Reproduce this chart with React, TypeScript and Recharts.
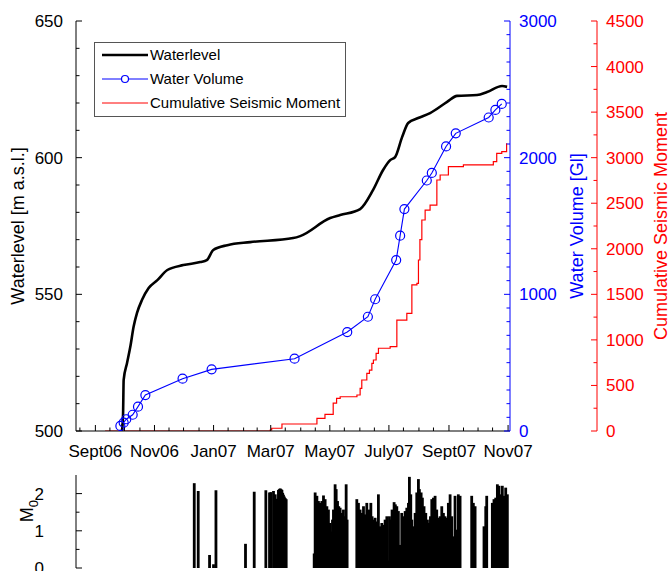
import { ComposedChart, Line, Bar, XAxis, YAxis } from 'recharts';

const FONT = '"Liberation Sans", Arial, Helvetica, sans-serif';

// x values are days counted from 1 Sept 2006
const monthTicks = [0, 61, 122, 181, 242, 303, 365, 426];
const monthLabels = ['Sept06', 'Nov06', 'Jan07', 'Mar07', 'May07', 'July07', 'Sept07', 'Nov07'];
const halfMonthTicks = [-16, 15, 30, 46, 76, 91, 107, 137, 153, 167, 196, 212, 227, 257, 273, 288, 318, 334, 349, 380, 395, 410];

const levelDays = [27, 27.5, 28.6, 29.2, 32.7, 36.1, 39.5, 43, 48.2, 55, 64, 74.3, 90.8, 108.3, 115, 121.7, 136.2, 159.9, 204.2, 211.4, 242.4, 252.7, 273.3, 286.7, 297, 304.3, 309.4, 316.7, 322.9, 333.2, 345.5, 363.1, 373.4, 394, 404.3, 419.8, 425];
const levelValues = [500, 500.4, 506.5, 518.7, 524.9, 530.9, 538.2, 543.2, 548, 552.3, 555.2, 558.9, 560.7, 561.8, 562.5, 566.2, 568, 569.1, 570.6, 571.3, 577.9, 579, 581.2, 588.2, 595.5, 599.1, 600.2, 607.6, 612.7, 614.5, 616.3, 620.4, 622.6, 622.9, 624, 626.2, 625.9];

const volumeDays = [25.8, 29.2, 31.9, 38.5, 44, 51.6, 90, 120, 205.6, 260, 281.3, 288.8, 310.5, 314.6, 319, 342.1, 347.3, 362, 372, 406, 412.9, 419.5];
const volumeValues = [37, 61, 86, 119, 178, 263, 383, 451, 529, 724, 836, 964, 1251, 1429, 1624, 1833, 1888, 2082, 2178, 2294, 2349, 2393];

const momentDays = [10, 105, 180.5, 182, 192.6, 227, 228.7, 237, 245.5, 249, 252.7, 270, 273.3, 275, 280.2, 282.9, 285.4, 287, 289.8, 292.2, 304.3, 311.2, 321.5, 326.7, 331.9, 333.5, 335, 337, 340.4, 345.5, 352.5, 355.9, 364.4, 379.9, 410.8, 414.3, 419.5, 424.5];
const momentValues = [0, 0, 11, 30, 77, 77, 139, 183, 307, 359, 376, 395, 468, 560, 633, 669, 743, 779, 853, 908, 925, 1218, 1292, 1603, 1621, 1877, 2100, 2316, 2425, 2480, 2755, 2810, 2901, 2920, 2956, 3048, 3066, 3158];

const m0Days = [
  102.1, 106.2, 117.9, 122, 124.5, 155, 164, 176, 179.8, 181.2, 183.9, 185.7, 187.4, 189, 190, 190.8, 191.7, 192.6, 193.4, 194.2, 195.1, 196, 197,
  225.9, 226.9, 228.7, 230.3, 232.1, 233.1, 233.8, 235.5, 237.2, 239, 240.6, 242.4, 243.4, 244.8, 245.8, 247.5, 248.6, 250, 251.3, 252.7, 253.7, 254.8, 256.1, 257.6, 258.9, 259.9,
  269.9, 271.6, 273.3, 275.1, 276.8, 278.5, 280.2, 281.9, 282.9, 284.4, 285.7, 287.1, 288.8, 290.6, 292.2, 294, 295.7, 297.4, 299.1, 300.9, 301.9, 303.6, 305, 306.3, 308.4, 309.7, 311.2, 312.8, 314.6, 316.3, 318, 319.8, 321.5, 323.2, 324.2, 325.6, 326.7, 328.3, 330.1, 331.8, 333.5, 334.5, 336.3, 337.6, 339.3, 341.1, 342.8, 344.5, 345.9, 347.3, 349, 350.7, 352.4, 354.1, 355.9, 357.6, 359.3, 361, 362.8, 364.4, 366.2, 367.9, 369.6, 371.3, 373.1, 374.7, 376.5,
  388.5, 390.2, 392, 401.2, 403, 404, 409.8, 411.5, 413.3, 415, 416.7, 418.5, 420.1, 421.9, 423.6, 425.3,
];
const m0Values = [
  2.28, 2.07, 0.35, 0.1, 2.09, 0.65, 2.05, 2.09, 2.03, 2.04, 2.07, 1.98, 1.86, 2.1, 2.12, 2.14, 2.12, 2.1, 2.02, 1.97, 1.92, 1.88, 1.85,
  0.39, 2.03, 1.94, 1.8, 1.75, 0.2, 1.8, 1.95, 1.85, 1.66, 1.57, 1.21, 0.98, 1.3, 1.57, 2.25, 2.12, 1.8, 1.66, 1.62, 0.2, 1.48, 1.57, 1.39, 2.25, 1.3,
  1.85, 1.75, 1.57, 1.48, 1.66, 1.44, 1.75, 0.48, 1.57, 1.75, 1.39, 1.3, 1.35, 1.25, 1.98, 1.12, 1.21, 1.16, 1.3, 1.39, 0.2, 1.39, 1.3, 1.57, 1.77, 1.71, 1.66, 1.53, 0.62, 1.48, 1.39, 1.53, 1.62, 1.75, 2.45, 1.98, 1.3, 1.12, 1.48, 2.03, 2.39, 2.12, 2.03, 1.89, 1.66, 1.48, 1.3, 1.21, 1.39, 1.85, 1.89, 1.94, 1.57, 1.35, 1.39, 1.66, 1.48, 1.39, 1.35, 1.75, 1.98, 1.39, 0.85, 1.94, 1.03, 1.98, 1.94,
  1.94, 1.75, 1.66, 1.12, 1.66, 1.94, 1.75, 1.85, 1.89, 2.25, 2.21, 1.98, 2.21, 1.94, 2.16, 1.98,
];

const levelData = levelDays.map((d, i) => ({ d, level: levelValues[i] }));
const volumeData = volumeDays.map((d, i) => ({ d, volume: volumeValues[i] }));
const momentData = momentDays.map((d, i) => ({ d, moment: momentValues[i] }));
const m0Data = m0Days.map((d, i) => ({ d, m0: m0Values[i] }));

const X_DOMAIN: [number, number] = [-20, 428];
const BLUE = '#0000ff';
const RED = '#ff0000';

const xTicks = [...monthTicks, ...halfMonthTicks].sort((a, b) => a - b);
const levelTicks = [500, 510, 520, 530, 540, 550, 560, 570, 580, 590, 600, 610, 620, 630, 640, 650];
const levelMajor = [500, 550, 600, 650];
const volumeTicks = Array.from({ length: 31 }, (_, i) => i * 100);
const volumeMajor = [0, 1000, 2000, 3000];
const momentTicks = Array.from({ length: 19 }, (_, i) => i * 250);
const momentMajor = [0, 500, 1000, 1500, 2000, 2500, 3000, 3500, 4000, 4500];
const m0Ticks = [0, 0.5, 1, 1.5, 2];
const m0Major = [0, 1, 2];

type Side = 'left' | 'right' | 'bottom' | 'top';

// MATLAB style inward ticks: longer on labelled values, short in between
function makeTick(side: Side, margin: number, majors: number[], color: string, labels: boolean, fmt?: (v: number) => string) {
  return (props: any) => {
    const { x, y, payload } = props;
    const v = payload.value;
    const major = majors.includes(v);
    const len = major ? 6 : 3.5;
    let l = { x1: x, y1: y, x2: x, y2: y };
    let t = { anchor: 'middle', dy: '0.35em' };
    if (side === 'left') { l = { x1: x + margin, y1: y, x2: x + margin + len, y2: y }; t = { anchor: 'end', dy: '0.35em' }; }
    if (side === 'right') { l = { x1: x - margin, y1: y, x2: x - margin - len, y2: y }; t = { anchor: 'start', dy: '0.35em' }; }
    if (side === 'bottom') { l = { x1: x, y1: y - margin, x2: x, y2: y - margin - len }; t = { anchor: 'middle', dy: '0.72em' }; }
    if (side === 'top') { l = { x1: x, y1: y + margin, x2: x, y2: y + margin + len }; }
    return (
      <g>
        <line {...l} stroke={color} strokeWidth={1} />
        {labels && major && (
          <text x={x} y={y} dy={t.dy} textAnchor={t.anchor} fill={color} fontSize={17}>
            {fmt ? fmt(v) : v}
          </text>
        )}
      </g>
    );
  };
}

const monthName = (v: number) => monthLabels[monthTicks.indexOf(v)] ?? '';

function MLabel() {
  return (
    <text x={33} y={50} transform="rotate(-90 33 50)" textAnchor="middle" fontSize={18} fill="#000">
      M<tspan fontSize={13} dy={5}>0</tspan>
    </text>
  );
}

function Spike(p: any) {
  const { x, y, width, height } = p;
  if (!height || height <= 0) return null;
  return <rect x={x + width / 2 - 1.4} y={y} width={2.8} height={height} fill="#000" />;
}

function LegendBox() {
  const rows = [
    { label: 'Waterlevel', color: '#000', w: 2.5, marker: false },
    { label: 'Water Volume', color: BLUE, w: 1, marker: true },
    { label: 'Cumulative Seismic Moment', color: RED, w: 1, marker: false },
  ];
  return (
    <div
      style={{
        position: 'absolute', left: 94, top: 42, width: 252, height: 75, boxSizing: 'border-box',
        border: '1px solid #555', background: '#fff', fontSize: 15, color: '#000',
      }}
    >
      {rows.map((r, i) => (
        <div key={r.label} style={{ position: 'absolute', left: 7, top: 2 + i * 24, height: 20, display: 'flex', alignItems: 'center' }}>
          <svg width={46} height={12}>
            <line x1={0} y1={6} x2={46} y2={6} stroke={r.color} strokeWidth={r.w} />
            {r.marker && <circle cx={23} cy={6} r={3.5} fill="#fff" stroke={r.color} strokeWidth={1.2} />}
          </svg>
          <span style={{ marginLeft: 2, lineHeight: '20px' }}>{r.label}</span>
        </div>
      ))}
    </div>
  );
}

export default function App() {
  return (
    <div style={{ position: 'fixed', left: 0, top: 0, width: 672, height: 571, overflow: 'hidden', background: '#fff', fontFamily: FONT }}>
      <div style={{ position: 'absolute', left: 0, top: 0 }}>
        <ComposedChart width={672} height={461} margin={{ top: 21, right: 0, bottom: 0, left: 0 }}>
          <XAxis xAxisId="x" type="number" dataKey="d" domain={X_DOMAIN} allowDataOverflow ticks={xTicks} interval={0}
            height={30} tickSize={0} tickMargin={14} tickLine={false} axisLine={{ stroke: '#000' }}
            tick={makeTick('bottom', 14, monthTicks, '#000', true, monthName)} />
          <XAxis xAxisId="top" orientation="top" type="number" dataKey="d" domain={X_DOMAIN} allowDataOverflow ticks={xTicks}
            interval={0} height={0} tickSize={0} tickMargin={0} tickLine={false} axisLine={{ stroke: '#000' }}
            tick={makeTick('top', 0, monthTicks, '#000', false)} />

          <YAxis yAxisId="wl" type="number" domain={[500, 650]} allowDataOverflow ticks={levelTicks} interval={0}
            width={76} tickSize={0} tickMargin={13} tickLine={false} axisLine={{ stroke: '#000' }}
            tick={makeTick('left', 13, levelMajor, '#000', true)}
            label={{ value: 'Waterlevel [m a.s.l.]', angle: -90, position: 'insideLeft', offset: 18, style: { textAnchor: 'middle', fill: '#000', fontSize: 18 } }} />

          <YAxis yAxisId="b_csm" orientation="right" type="number" domain={[0, 4500]} allowDataOverflow ticks={momentTicks} interval={0}
            width={75} tickSize={0} tickMargin={9} tickLine={false} axisLine={{ stroke: RED }}
            tick={makeTick('right', 9, momentMajor, RED, true)}
            label={{ value: 'Cumulative Seismic Moment', angle: -90, position: 'insideRight', offset: 11, style: { textAnchor: 'middle', fill: RED, fontSize: 18 } }} />
          <YAxis yAxisId="a_vol" orientation="right" type="number" domain={[0, 3000]} allowDataOverflow ticks={volumeTicks} interval={0}
            width={87} tickSize={0} tickMargin={9} tickLine={false} axisLine={{ stroke: BLUE }}
            tick={makeTick('right', 9, volumeMajor, BLUE, true)}
            label={{ value: 'Water Volume [Gl]', angle: -90, position: 'insideRight', offset: 20, style: { textAnchor: 'middle', fill: BLUE, fontSize: 18 } }} />

          <Line data={momentData} xAxisId="x" yAxisId="b_csm" dataKey="moment" type="stepAfter" stroke={RED} strokeWidth={1.2}
            dot={false} activeDot={false} isAnimationActive={false} />
          <Line data={volumeData} xAxisId="x" yAxisId="a_vol" dataKey="volume" type="linear" stroke={BLUE} strokeWidth={1.1}
            dot={{ r: 4.5, stroke: BLUE, strokeWidth: 1.2, fill: 'none' }} activeDot={false} isAnimationActive={false} />
          <Line data={levelData} xAxisId="x" yAxisId="wl" dataKey="level" type="monotone" stroke="#000" strokeWidth={2.6}
            dot={false} activeDot={false} isAnimationActive={false} />
        </ComposedChart>
        <LegendBox />
      </div>

      <div style={{ position: 'absolute', left: 0, top: 461 }}>
        <ComposedChart width={672} height={110} data={m0Data} margin={{ top: 14, right: 162, bottom: 3, left: 0 }}>
          <XAxis xAxisId="b" type="number" dataKey="d" domain={X_DOMAIN} allowDataOverflow ticks={xTicks} interval={0}
            height={0} tickSize={0} tickMargin={0} tickLine={false} axisLine={{ stroke: '#000' }}
            tick={makeTick('bottom', 0, monthTicks, '#000', false)} />
          <XAxis xAxisId="t" orientation="top" type="number" dataKey="d" domain={X_DOMAIN} allowDataOverflow ticks={xTicks}
            interval={0} height={0} tickSize={0} tickMargin={0} tickLine={false} axisLine={{ stroke: '#000' }}
            tick={makeTick('top', 0, monthTicks, '#000', false)} />

          <YAxis yAxisId="m" type="number" domain={[0, 2.5]} allowDataOverflow ticks={m0Ticks} interval={0}
            width={76} tickSize={0} tickMargin={32} tickLine={false} axisLine={{ stroke: '#000' }}
            tick={makeTick('left', 32, m0Major, '#000', true)} label={<MLabel />} />
          <YAxis yAxisId="mRight" orientation="right" type="number" domain={[0, 2.5]} allowDataOverflow ticks={m0Ticks} interval={0}
            width={0} tickSize={0} tickMargin={0} tickLine={false} axisLine={{ stroke: '#000' }}
            tick={makeTick('right', 0, m0Major, '#000', false)} />

          <Bar xAxisId="b" yAxisId="m" dataKey="m0" fill="#000" barSize={2} shape={<Spike />} isAnimationActive={false} />
        </ComposedChart>
      </div>
    </div>
  );
}
